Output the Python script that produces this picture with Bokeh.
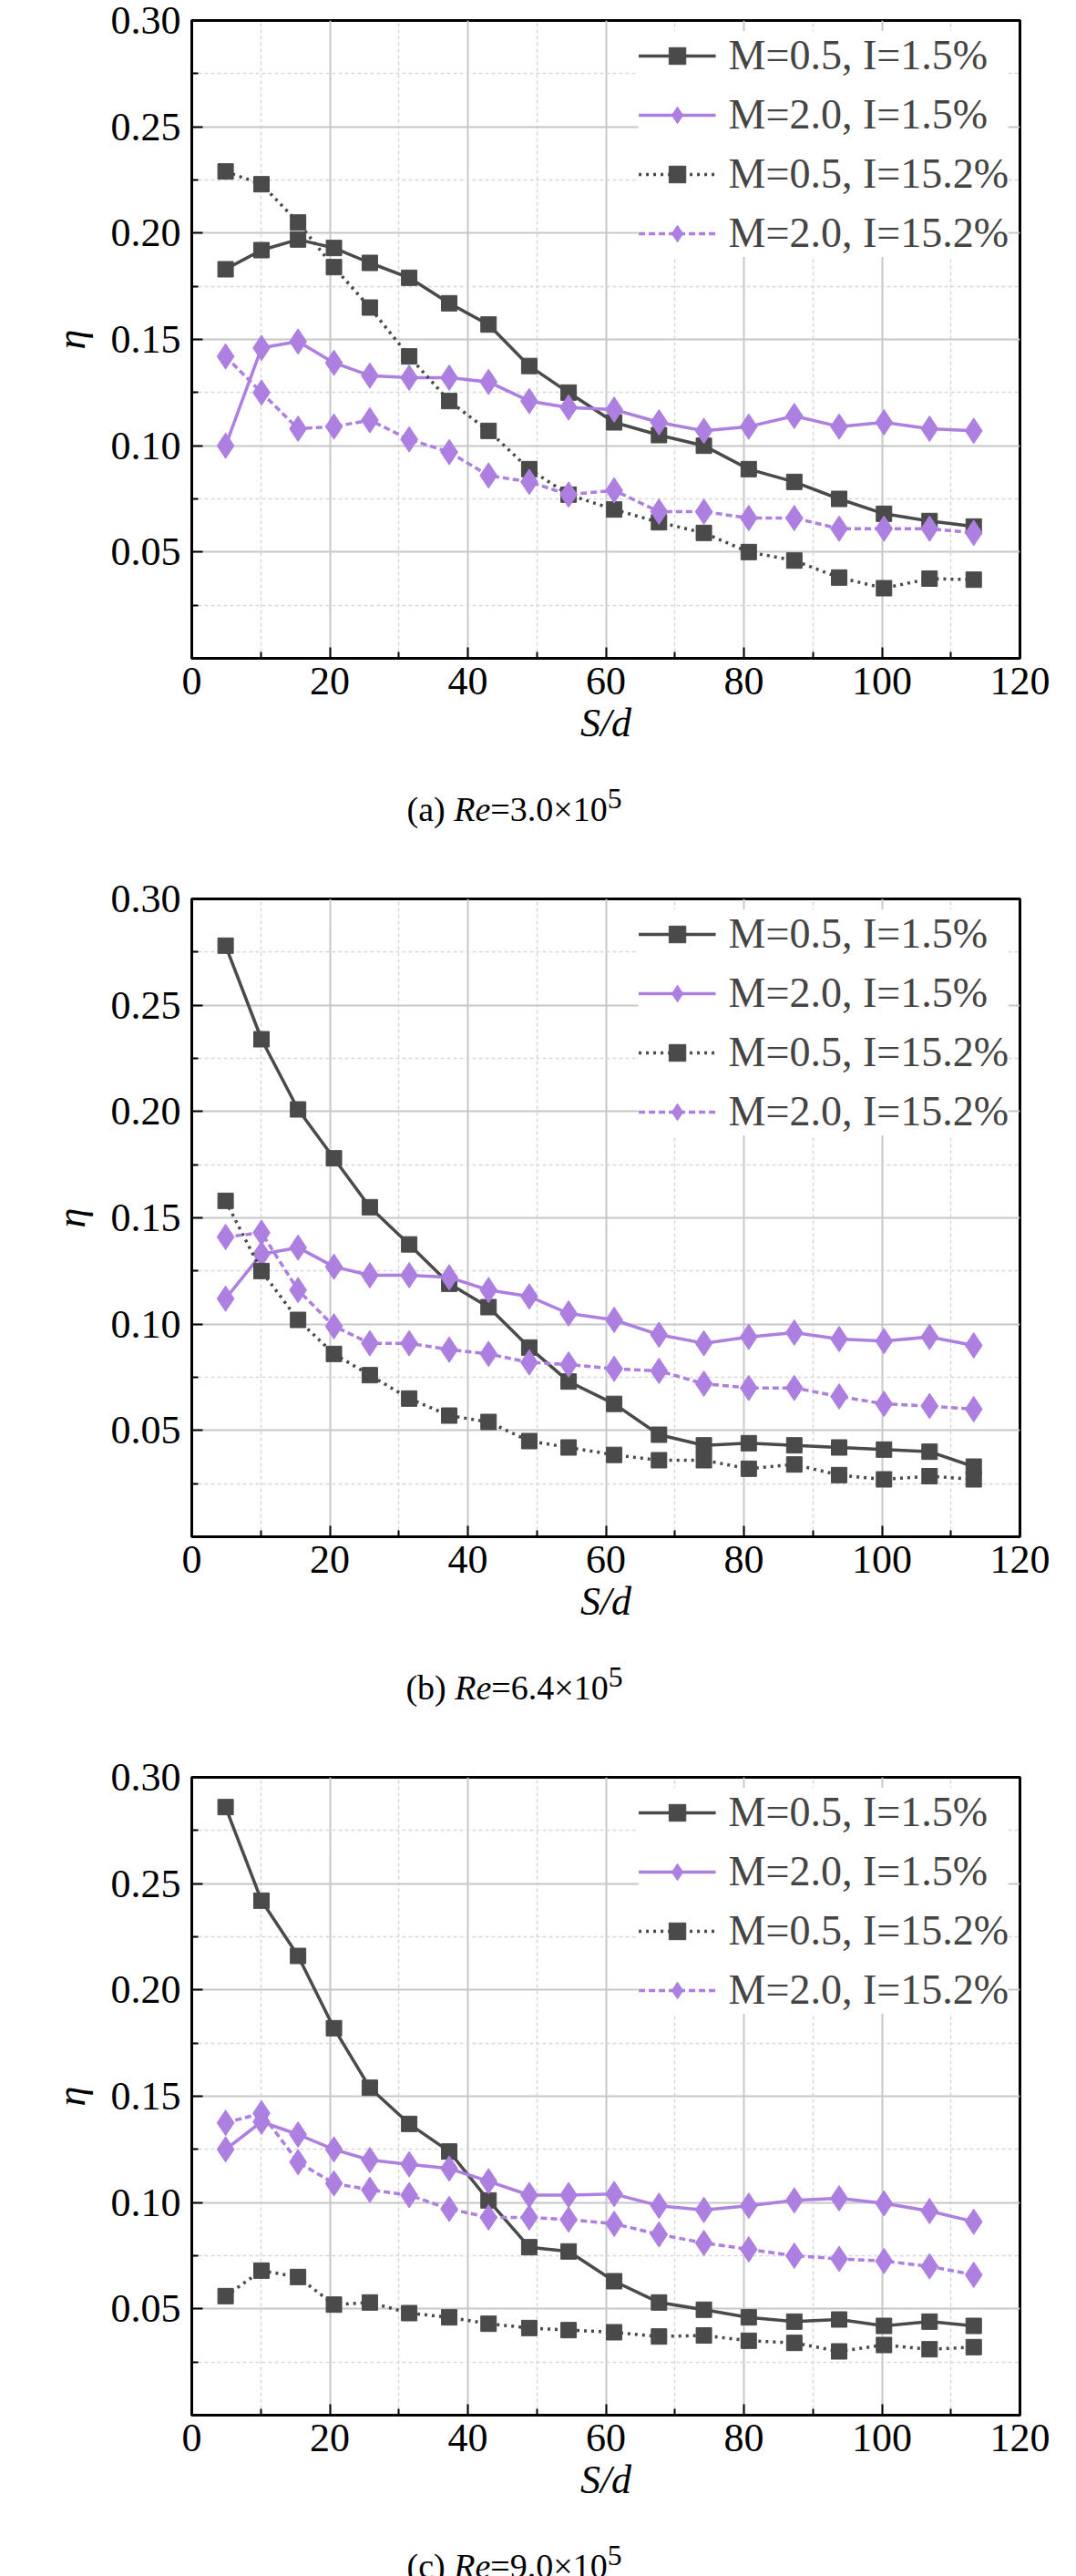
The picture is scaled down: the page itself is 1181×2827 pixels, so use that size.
from bokeh.plotting import figure
from bokeh.layouts import column
from bokeh.models import FixedTicker, Div, Legend, LegendItem, CustomJSTickFormatter
from bokeh.embed import file_html
from bokeh.resources import INLINE

x = [4.9, 10.1, 15.4, 20.6, 25.8, 31.5, 37.3, 43.0, 48.9, 54.6, 61.2, 67.7, 74.2, 80.7, 87.3, 93.8, 100.3, 106.9, 113.3]

a_m05_i15 = [0.183, 0.192, 0.197, 0.193, 0.186, 0.179, 0.167, 0.157, 0.1375, 0.125, 0.111, 0.105, 0.100, 0.089, 0.083, 0.075, 0.068, 0.0646, 0.062]
a_m20_i15 = [0.100, 0.146, 0.149, 0.139, 0.133, 0.132, 0.132, 0.130, 0.121, 0.118, 0.117, 0.111, 0.107, 0.109, 0.114, 0.109, 0.111, 0.108, 0.107]
a_m05_i152 = [0.229, 0.223, 0.205, 0.184, 0.165, 0.142, 0.121, 0.107, 0.089, 0.077, 0.070, 0.064, 0.059, 0.050, 0.046, 0.038, 0.033, 0.0375, 0.037]
a_m20_i152 = [0.142, 0.125, 0.108, 0.109, 0.112, 0.103, 0.097, 0.086, 0.083, 0.077, 0.079, 0.069, 0.069, 0.066, 0.066, 0.061, 0.061, 0.061, 0.059]

b_m05_i15 = [0.278, 0.234, 0.201, 0.178, 0.155, 0.1375, 0.119, 0.108, 0.089, 0.073, 0.0625, 0.048, 0.043, 0.044, 0.043, 0.042, 0.041, 0.040, 0.033]
b_m20_i15 = [0.112, 0.133, 0.136, 0.127, 0.123, 0.123, 0.122, 0.116, 0.113, 0.105, 0.102, 0.095, 0.091, 0.094, 0.096, 0.093, 0.092, 0.094, 0.090]
b_m05_i152 = [0.158, 0.125, 0.102, 0.086, 0.076, 0.065, 0.057, 0.054, 0.045, 0.042, 0.0385, 0.036, 0.036, 0.032, 0.034, 0.029, 0.027, 0.0285, 0.027]
b_m20_i152 = [0.141, 0.143, 0.116, 0.099, 0.091, 0.091, 0.088, 0.086, 0.082, 0.081, 0.079, 0.078, 0.072, 0.070, 0.070, 0.066, 0.0625, 0.0615, 0.060]

c_m05_i15 = [0.286, 0.242, 0.216, 0.182, 0.154, 0.137, 0.124, 0.101, 0.079, 0.077, 0.063, 0.053, 0.0496, 0.046, 0.044, 0.045, 0.042, 0.044, 0.042]
c_m20_i15 = [0.125, 0.138, 0.132, 0.125, 0.120, 0.118, 0.116, 0.110, 0.1035, 0.1035, 0.104, 0.0985, 0.0965, 0.0985, 0.101, 0.102, 0.0996, 0.096, 0.091]
c_m05_i152 = [0.056, 0.068, 0.065, 0.052, 0.053, 0.048, 0.046, 0.043, 0.041, 0.040, 0.039, 0.037, 0.0375, 0.035, 0.034, 0.030, 0.033, 0.031, 0.032]
c_m20_i152 = [0.1375, 0.142, 0.119, 0.109, 0.106, 0.1035, 0.097, 0.093, 0.093, 0.092, 0.090, 0.085, 0.081, 0.078, 0.075, 0.0735, 0.0725, 0.070, 0.066]

labels = ["M=0.5, I=1.5%", "M=2.0, I=1.5%", "M=0.5, I=15.2%", "M=2.0, I=15.2%"]
captions = ["(a) <i>Re</i>=3.0×10<sup>5</sup>", "(b) <i>Re</i>=6.4×10<sup>5</sup>", "(c) <i>Re</i>=9.0×10<sup>5</sup>"]
x_ticks = [0, 20, 40, 60, 80, 100, 120]
y_ticks = [0.05, 0.10, 0.15, 0.20, 0.25, 0.30]

GRAY = "#4a4a4a"
PURPLE = "#ad7fe0"
FONT = "Liberation Serif"

def make(series):
    p = figure(width=1165, height=850, x_range=(0, 120), y_range=(0, 0.30),
               output_backend="svg", toolbar_location=None,
               min_border_left=210, min_border_right=46, min_border_top=22, min_border_bottom=128)
    p.outline_line_color = "black"
    p.outline_line_width = 3
    p.xaxis.ticker = FixedTicker(ticks=x_ticks, minor_ticks=[10, 30, 50, 70, 90, 110])
    p.yaxis.ticker = FixedTicker(ticks=y_ticks, minor_ticks=[0.025, 0.075, 0.125, 0.175, 0.225, 0.275])
    p.yaxis.formatter = CustomJSTickFormatter(code="return tick.toFixed(2);")
    for ax in (p.xaxis[0], p.yaxis[0]):
        ax.major_tick_in = 12
        ax.major_tick_out = 0
        ax.minor_tick_in = 7
        ax.minor_tick_out = 0
        ax.axis_line_color = "black"
        ax.axis_line_width = 3
        ax.major_tick_line_width = 2
        ax.minor_tick_line_width = 2
        ax.major_label_text_font = FONT
        ax.major_label_text_font_size = "44px"
        ax.major_label_text_color = "black"
        ax.axis_label_text_font = FONT
        ax.axis_label_text_font_size = "44px"
        ax.axis_label_text_font_style = "italic"
        ax.axis_label_text_color = "black"
    p.xaxis.major_label_standoff = 10
    p.yaxis.major_label_standoff = 12
    p.xaxis.axis_label = "S/d"
    p.yaxis.axis_label = "η"
    p.xaxis.axis_label_standoff = 4
    p.yaxis.axis_label_standoff = 16
    for g in (p.xgrid[0], p.ygrid[0]):
        g.grid_line_color = "#c8c8c8"
        g.grid_line_width = 2
        g.minor_grid_line_color = "#d8d8d8"
        g.minor_grid_line_dash = "4 3"
        g.minor_grid_line_width = 1.5
    styles = [(GRAY, "solid", "square", 17), (PURPLE, "solid", "diamond", 28),
              (GRAY, "3 5", "square", 17), (PURPLE, "7 4", "diamond", 28)]
    items = []
    for ys, (c, dash, mk, sz), lab in zip(series, styles, labels):
        r1 = p.line(x, ys, line_color=c, line_width=3.5, line_dash=dash)
        r2 = p.scatter(x, ys, marker=mk, size=sz, fill_color=c, line_color=c)
        items.append(LegendItem(label=lab, renderers=[r1, r2]))
    leg = Legend(items=items, location="top_right", border_line_color=None,
                 background_fill_color="white", background_fill_alpha=1,
                 label_text_font=FONT, label_text_font_size="46px",
                 glyph_width=85, glyph_height=46, spacing=12, margin=12,
                 label_standoff=14, padding=12)
    p.add_layout(leg)
    return p

all_series = [
    [a_m05_i15, a_m20_i15, a_m05_i152, a_m20_i152],
    [b_m05_i15, b_m20_i15, b_m05_i152, b_m20_i152],
    [c_m05_i15, c_m20_i15, c_m05_i152, c_m20_i152],
]
children = []
for i, (s, cap) in enumerate(zip(all_series, captions)):
    children.append(make(s))
    h = 104 if i < 2 else 64
    children.append(Div(text=cap, width=1165, height=h,
                        styles={"font-family": FONT, "font-size": "38px", "color": "black",
                                "padding-left": "210px", "width": "909px", "text-align": "center",
                                "line-height": "44px"}))
lay = column(*children, spacing=0)
open("out.html", "w").write(file_html(lay, INLINE))
